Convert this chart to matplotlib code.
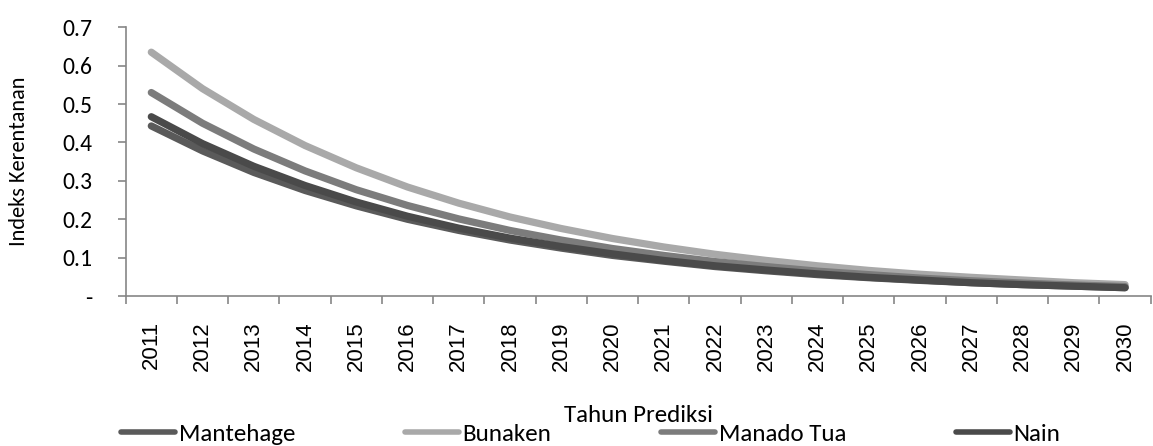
import matplotlib
matplotlib.use('Agg')
import matplotlib.pyplot as plt
import numpy as np

# Data
years = [str(y) for y in range(2011, 2031)]
mantehage = [0.443, 0.378, 0.322, 0.275, 0.235, 0.200, 0.171, 0.146, 0.125, 0.106,
             0.091, 0.077, 0.066, 0.056, 0.048, 0.041, 0.035, 0.030, 0.026, 0.022]
bunaken = [0.635, 0.540, 0.460, 0.392, 0.334, 0.284, 0.242, 0.206, 0.176, 0.150,
           0.128, 0.109, 0.093, 0.079, 0.067, 0.057, 0.049, 0.042, 0.035, 0.030]
manado_tua = [0.530, 0.450, 0.383, 0.326, 0.277, 0.236, 0.201, 0.171, 0.146, 0.124,
              0.106, 0.090, 0.077, 0.065, 0.056, 0.047, 0.040, 0.034, 0.029, 0.025]
nain = [0.467, 0.397, 0.338, 0.288, 0.245, 0.208, 0.177, 0.151, 0.129, 0.110,
        0.093, 0.079, 0.068, 0.058, 0.049, 0.042, 0.035, 0.030, 0.026, 0.022]
series_names = ['Mantehage', 'Bunaken', 'Manado Tua', 'Nain']
colors = ['#5a5a5a', '#a9a9a9', '#7c7c7c', '#4a4a4a']
y_ticks = [0, 0.1, 0.2, 0.3, 0.4, 0.5, 0.6, 0.7]
y_ticklabels = ['-', '0.1', '0.2', '0.3', '0.4', '0.5', '0.6', '0.7']

plt.rcParams['font.family'] = ['Carlito', 'Lato', 'DejaVu Sans']

fig = plt.figure(figsize=(11.53, 4.46), dpi=100)
ax = fig.add_axes([0.109, 0.336, 0.889, 0.603])

x = np.arange(len(years))
for name, vals, c in zip(series_names, [mantehage, bunaken, manado_tua, nain], colors):
    ax.plot(x, vals, color=c, lw=5.2, solid_capstyle='round', label=name)

ax.set_xlim(-0.5, len(years) - 0.5)
ax.set_ylim(0, 0.7)

ax.set_yticks(y_ticks)
ax.set_yticklabels(y_ticklabels, fontsize=17)
ax.set_xticks(np.arange(-0.5, len(years), 1.0))
ax.set_xticklabels([])
ax.set_xticks(x, minor=True)
ax.set_xticklabels(years, minor=True, rotation=90, fontsize=16,
                   family=['Liberation Sans', 'DejaVu Sans'])
ax.tick_params(axis='x', which='minor', length=0, pad=18)
ax.tick_params(axis='x', which='major', length=6, color='#868686', width=1.2)
ax.tick_params(axis='y', length=6, color='#868686', width=1.2, pad=18)

for s in ['top', 'right']:
    ax.spines[s].set_visible(False)
for s in ['left', 'bottom']:
    ax.spines[s].set_color('#868686')
    ax.spines[s].set_linewidth(1.2)

ax.set_ylabel('Indeks Kerentanan', fontsize=16)
ax.yaxis.set_label_coords(-0.094, 0.5)

ax_center = (0.109 + 0.889 / 2)
fig.text(ax_center, 0.0695, 'Tahun Prediksi', ha='center', va='center', fontsize=18)

leg = fig.legend(loc='center left', bbox_to_anchor=(0.105, 0.026), ncol=4,
                 frameon=False, fontsize=18, handlelength=2.15, handletextpad=0.15,
                 columnspacing=4.4, borderpad=0, borderaxespad=0)
for line in leg.get_lines():
    line.set_linewidth(4)

fig.savefig('out.png', dpi=100)
